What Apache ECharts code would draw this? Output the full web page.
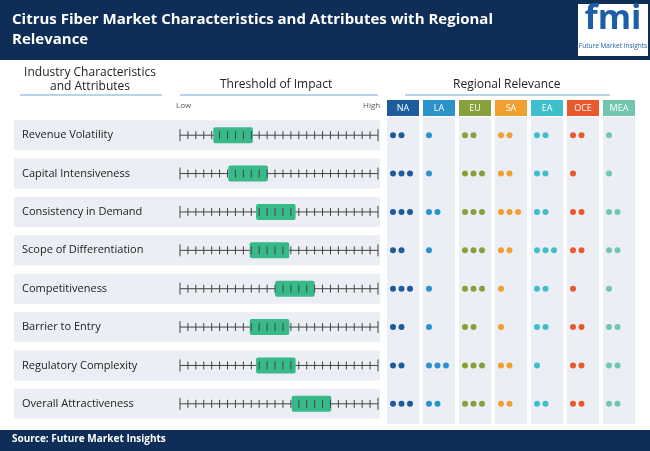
<!DOCTYPE html>
<html>
<head>
<meta charset="utf-8">
<script src="https://cdn.jsdelivr.net/npm/echarts@6/dist/echarts.min.js"></script>
<style>html,body{margin:0;padding:0;background:#fff}#chart{width:650px;height:451px}</style>
</head>
<body>
<div id="chart"></div>
<script>
// rows of the table
var factors = ['Revenue Volatility', 'Capital Intensiveness', 'Consistency in Demand', 'Scope of Differentiation',
  'Competitiveness', 'Barrier to Entry', 'Regulatory Complexity', 'Overall Attractiveness'];
// where the green threshold band starts on a 0-25 tick scale
var boxStart = [4.2, 6.1, 9.6, 8.8, 12.0, 8.8, 9.6, 14.1];
var boxWidth = 5;
var regions = ['NA', 'LA', 'EU', 'SA', 'EA', 'OCE', 'MEA'];
var regionColors = ['#1c5b9c', '#2a93c9', '#86a13a', '#f0a030', '#3dbfcc', '#e85a2b', '#72c6ae'];
// dots per region, one number per factor row
var dotsNA = [2, 3, 3, 2, 3, 2, 2, 3];
var dotsLA = [1, 1, 2, 1, 1, 1, 3, 2];
var dotsEU = [2, 3, 3, 3, 3, 2, 3, 3];
var dotsSA = [2, 2, 3, 2, 1, 1, 2, 2];
var dotsEA = [2, 2, 2, 3, 2, 2, 1, 2];
var dotsOCE = [2, 1, 2, 2, 1, 2, 2, 2];
var dotsMEA = [1, 1, 2, 2, 1, 2, 2, 2];
var dotTable = [dotsNA, dotsLA, dotsEU, dotsSA, dotsEA, dotsOCE, dotsMEA];

var chart = echarts.init(document.getElementById('chart'));

var rowData = factors.map(function (f, i) { return [boxStart[i], i]; });
var dotData = [];
dotTable.forEach(function (arr, r) {
  arr.forEach(function (n, i) { dotData.push([r, i, n]); });
});
var colData = regions.map(function (r, i) { return [i, 0]; });

chart.setOption({
  animation: false,
  grid: [
    { left: 180, width: 198, top: 116, height: 307 },
    { left: 385, width: 252, top: 116, height: 307 }
  ],
  xAxis: [
    { gridIndex: 0, type: 'value', min: 0, max: 25, show: false },
    { gridIndex: 1, type: 'category', data: regions, show: false }
  ],
  yAxis: [
    { gridIndex: 0, type: 'category', data: factors, inverse: true, show: false },
    { gridIndex: 1, type: 'category', data: factors, inverse: true, show: false }
  ],
  graphic: [
    { type: 'rect', shape: { x: 0, y: 0, width: 650, height: 60 }, style: { fill: '#0e2d57' } },
    { type: 'text', left: 12, top: 10, style: { text: 'Citrus Fiber Market Characteristics and Attributes with Regional\nRelevance',
      fill: '#fff', font: 'bold 15px "Open Sans"', lineHeight: 20 } },
    { type: 'rect', shape: { x: 578, y: 4, width: 70, height: 52 }, style: { fill: '#fff' } },
    { type: 'text', style: { x: 613, y: 2, text: 'fmi', align: 'center', fill: '#1c5fa8', font: 'bold 34px "Open Sans"' } },
    { type: 'text', style: { x: 613, y: 43, text: 'Future Market Insights', align: 'center', fill: '#1c5fa8', font: '6.5px "Open Sans"' } },
    { type: 'text', style: { x: 90, y: 66, text: 'Industry Characteristics\nand Attributes', align: 'center',
      fill: '#222', font: '12px "Open Sans"', lineHeight: 14 } },
    { type: 'line', shape: { x1: 20, y1: 95, x2: 162, y2: 95 }, style: { stroke: '#6fa8d8', lineWidth: 1 } },
    { type: 'text', left: 220, top: 79, style: { text: 'Threshold of Impact', fill: '#222', font: '12px "Open Sans"' } },
    { type: 'line', shape: { x1: 180, y1: 95, x2: 378, y2: 95 }, style: { stroke: '#6fa8d8', lineWidth: 1 } },
    { type: 'text', left: 453, top: 79, style: { text: 'Regional Relevance', fill: '#222', font: '12px "Open Sans"' } },
    { type: 'line', shape: { x1: 405, y1: 95, x2: 610, y2: 95 }, style: { stroke: '#6fa8d8', lineWidth: 1 } },
    { type: 'text', left: 176, top: 102, style: { text: 'Low', fill: '#555', font: '8px "Open Sans"' } },
    { type: 'text', left: 363, top: 102, style: { text: 'High', fill: '#555', font: '8px "Open Sans"' } },
    { type: 'rect', shape: { x: 0, y: 430, width: 650, height: 21 }, style: { fill: '#0e2d57' } },
    { type: 'text', left: 12, top: 434, style: { text: 'Source: Future Market Insights', fill: '#fff', font: 'bold 10px "Open Sans"' } }
  ],
  series: [
    {
      type: 'custom', xAxisIndex: 0, yAxisIndex: 0, data: rowData, z: 2,
      renderItem: function (params, api) {
        var i = api.value(1);
        var y = api.coord([0, i])[1];
        var x0 = api.coord([0, i])[0], x1 = api.coord([25, i])[0];
        var b0 = api.coord([api.value(0), i])[0], b1 = api.coord([api.value(0) + boxWidth, i])[0];
        var kids = [
          { type: 'rect', shape: { x: 14, y: y - 15, width: 366, height: 30 }, style: { fill: '#eceef5' } },
          { type: 'text', style: { x: 22, y: y, text: factors[i], verticalAlign: 'middle', fill: '#222', font: '11px "Open Sans"' } },
          { type: 'line', shape: { x1: x0, y1: y, x2: x1, y2: y }, style: { stroke: '#444', lineWidth: 1 } },
          { type: 'rect', shape: { x: b0, y: y - 8, width: b1 - b0, height: 16, r: 2 }, style: { fill: '#38b98a' } }
        ];
        for (var k = 0; k <= 25; k++) {
          var x = api.coord([k, i])[0];
          var h = (k === 0 || k === 25) ? 6 : 4;
          kids.push({ type: 'line', shape: { x1: x, y1: y - h, x2: x, y2: y + h }, style: { stroke: '#444', lineWidth: 1 } });
        }
        return { type: 'group', children: kids };
      }
    },
    {
      type: 'custom', xAxisIndex: 1, yAxisIndex: 1, data: colData, z: 1,
      renderItem: function (params, api) {
        var r = api.value(0);
        var cx = api.coord([r, 0])[0];
        var cs = params.coordSys;
        return { type: 'group', children: [
          { type: 'rect', shape: { x: cx - 16, y: cs.y - 16, width: 32, height: 16 }, style: { fill: regionColors[r] } },
          { type: 'text', style: { x: cx, y: cs.y - 8, text: regions[r], align: 'center', verticalAlign: 'middle', fill: '#fff', font: '9px "Open Sans"' } },
          { type: 'rect', shape: { x: cx - 16, y: cs.y + 1, width: 32, height: cs.height }, style: { fill: '#eceef5' } }
        ] };
      }
    },
    {
      type: 'custom', xAxisIndex: 1, yAxisIndex: 1, data: dotData, z: 3,
      renderItem: function (params, api) {
        var r = api.value(0), p = api.coord([r, api.value(1)]);
        var kids = [];
        for (var k = 0; k < api.value(2); k++) {
          kids.push({ type: 'circle', shape: { cx: p[0] - 10 + k * 8.5, cy: p[1], r: 3 }, style: { fill: regionColors[r] } });
        }
        return { type: 'group', children: kids };
      }
    }
  ]
});
</script>
</body>
</html>
